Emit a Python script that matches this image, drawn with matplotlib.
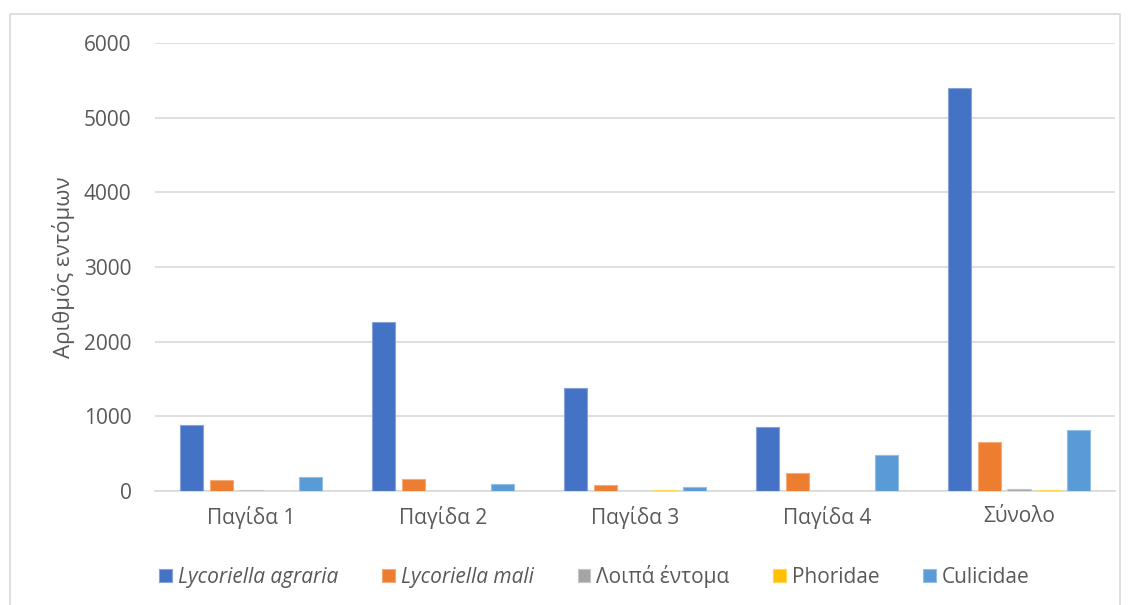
import numpy as np
import matplotlib.pyplot as plt
from matplotlib.patches import Rectangle
from matplotlib.colors import to_rgb

plt.rcParams['font.family'] = ['Open Sans', 'DejaVu Sans']

# trap catches per insect group
categories = ["Παγίδα 1", "Παγίδα 2", "Παγίδα 3", "Παγίδα 4", "Σύνολο"]
agraria = [880, 2270, 1380, 860, 5400]
mali = [150, 160, 80, 240, 650]
other = [15, 0, 0, 0, 25]
phoridae = [0, 0, 15, 0, 15]
culicidae = [190, 90, 55, 480, 820]

series = [
    (agraria, "Lycoriella agraria", "#4472C4", True),
    (mali, "Lycoriella mali", "#ED7D31", True),
    (other, "Λοιπά έντομα", "#A5A5A5", False),
    (phoridae, "Phoridae", "#FFC000", False),
    (culicidae, "Culicidae", "#5B9BD5", False),
]

def lighter(c, f=0.35):
    r, g, b = to_rgb(c)
    return (r + (1 - r) * f, g + (1 - g) * f, b + (1 - b) * f)

fig = plt.figure(figsize=(11.32, 6.05), dpi=100)
ax = fig.add_axes([155/1132, 114/605, 960/1132, 448/605])

x = np.arange(len(categories))
step = 0.154
width = 0.12
for i, (vals, name, color, italic) in enumerate(series):
    ax.bar(x + (i - 2) * step, vals, width, color=color, label=name,
           edgecolor=lighter(color), linewidth=0.8, zorder=3)

ax.set_xlim(-0.5, len(categories) - 0.5)
ax.set_ylim(0, 6000)
ax.set_yticks(range(0, 6001, 1000))
ax.set_xticks(x)
ax.set_xticklabels(categories)
ax.grid(axis="y", color="#D9D9D9", linewidth=1.2, zorder=0)
ax.tick_params(axis="both", length=0, labelsize=15, colors="#595959")
ax.tick_params(axis="y", pad=17)
ax.tick_params(axis="x", pad=11)
for side in ["top", "right", "left"]:
    ax.spines[side].set_visible(False)
ax.spines["bottom"].set_color("#D9D9D9")
ax.spines["bottom"].set_linewidth(1.2)
ax.set_ylabel("Αριθμός εντόμων", fontsize=16, color="#595959", labelpad=6)

leg = ax.legend(loc="center", bbox_to_anchor=(0.458, -0.19), ncol=5, frameon=False,
                fontsize=15, handlelength=0.6, handleheight=0.6,
                handletextpad=0.3, columnspacing=2.1)
for txt, (_, _, _, italic) in zip(leg.get_texts(), series):
    txt.set_color("#595959")
    if italic:
        txt.set_style("italic")

# chart frame
fig.patches.append(Rectangle((10/1132, -0.01), 1110/1132, 1 - 14/605 + 0.01,
                             transform=fig.transFigure, fill=False,
                             edgecolor="#D9D9D9", linewidth=1.2))

fig.savefig("out.png", dpi=100, facecolor="white")
